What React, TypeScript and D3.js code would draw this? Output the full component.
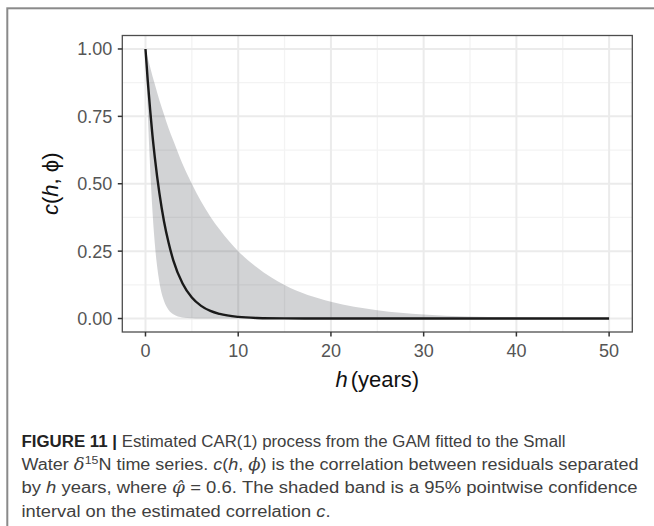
import React from "react";
import * as d3 from "d3";

// Lag h (years)
const lags = [0, 0.25, 0.5, 0.75, 1, 1.5, 2, 2.5, 3, 4, 5, 6, 7, 8, 10, 12, 15, 20, 25, 30, 40, 50];
// Estimated correlation c(h, phi)
const corr = [1, 0.88, 0.775, 0.68, 0.6, 0.465, 0.36, 0.28, 0.216, 0.13, 0.078, 0.047, 0.028, 0.017, 0.006, 0.002, 0.0005, 0, 0, 0, 0, 0];
// 95% pointwise confidence band
const upper = [1, 0.966, 0.933, 0.9, 0.87, 0.81, 0.757, 0.705, 0.66, 0.573, 0.5, 0.434, 0.378, 0.33, 0.25, 0.19, 0.124, 0.062, 0.031, 0.015, 0.004, 0.001];
const lower = [1, 0.76, 0.56, 0.4, 0.28, 0.135, 0.065, 0.032, 0.016, 0.004, 0.001, 0, 0, 0, 0, 0, 0, 0, 0, 0, 0, 0];

const xTicks = [0, 10, 20, 30, 40, 50];
const xMinor = [5, 15, 25, 35, 45];
const yTicks = [0, 0.25, 0.5, 0.75, 1];
const yMinor = [0.125, 0.375, 0.625, 0.875];

const W = 654;
const H = 526;
const P = { left: 122.3, right: 632.3, top: 35.5, bottom: 332 };

export default function App() {
  const x = d3.scaleLinear().domain([-2.5, 52.5]).range([P.left, P.right]);
  const y = d3.scaleLinear().domain([-0.05, 1.05]).range([P.bottom, P.top]);

  const pts = lags.map((h, i) => ({ h, c: corr[i], lo: lower[i], hi: upper[i] }));
  const area = d3
    .area<any>()
    .x((d) => x(d.h))
    .y0((d) => y(d.lo))
    .y1((d) => y(d.hi))
    .curve(d3.curveMonotoneX);
  const line = d3
    .line<any>()
    .x((d) => x(d.h))
    .y((d) => y(d.c))
    .curve(d3.curveMonotoneX);

  const font = "'Liberation Sans', Arial, Helvetica, sans-serif";
  const tickColor = "#555";
  const capColor = "#404040";
  const serif = "'DejaVu Serif', serif";

  return (
    <svg
      width={W}
      height={H}
      style={{ position: "absolute", left: 0, top: 0, background: "#fff" }}
      fontFamily={font}
    >
      {/* outer frame */}
      <rect x={7.3} y={8.3} width={720} height={640} fill="none" stroke="#8a8a8a" strokeWidth={2} />

      {/* panel background */}
      <rect x={P.left} y={P.top} width={P.right - P.left} height={P.bottom - P.top} fill="#fff" />

      {/* minor grid */}
      {xMinor.map((v) => (
        <line key={"xm" + v} x1={x(v)} x2={x(v)} y1={P.top} y2={P.bottom} stroke="#f3f3f3" strokeWidth={1.3} />
      ))}
      {yMinor.map((v) => (
        <line key={"ym" + v} x1={P.left} x2={P.right} y1={y(v)} y2={y(v)} stroke="#f3f3f3" strokeWidth={1.3} />
      ))}
      {/* major grid */}
      {xTicks.map((v) => (
        <line key={"xg" + v} x1={x(v)} x2={x(v)} y1={P.top} y2={P.bottom} stroke="#ebebeb" strokeWidth={2} />
      ))}
      {yTicks.map((v) => (
        <line key={"yg" + v} x1={P.left} x2={P.right} y1={y(v)} y2={y(v)} stroke="#ebebeb" strokeWidth={2} />
      ))}

      {/* confidence band */}
      <path d={area(pts) || ""} fill="rgb(30,34,44)" fillOpacity={0.2} />
      {/* estimated correlation */}
      <path d={line(pts) || ""} fill="none" stroke="#1a1a1a" strokeWidth={2.4} />

      {/* panel border */}
      <rect
        x={P.left}
        y={P.top}
        width={P.right - P.left}
        height={P.bottom - P.top}
        fill="none"
        stroke="#4d4d4d"
        strokeWidth={1.3}
      />

      {/* x ticks */}
      {xTicks.map((v) => (
        <g key={"xt" + v}>
          <line x1={x(v)} x2={x(v)} y1={P.bottom} y2={P.bottom + 4.5} stroke="#333" strokeWidth={1.5} />
          <text x={x(v)} y={356.5} textAnchor="middle" fontSize={18} fill={tickColor}>
            {v}
          </text>
        </g>
      ))}
      {/* y ticks */}
      {yTicks.map((v) => (
        <g key={"yt" + v}>
          <line x1={P.left - 4.5} x2={P.left} y1={y(v)} y2={y(v)} stroke="#333" strokeWidth={1.5} />
          <text x={P.left - 10} y={y(v)} dy="0.36em" textAnchor="end" fontSize={18} fill={tickColor}>
            {d3.format(".2f")(v)}
          </text>
        </g>
      ))}

      {/* axis titles */}
      <text x={(P.left + P.right) / 2} y={386.5} textAnchor="middle" fontSize={22} fill="#111">
        <tspan fontStyle="italic">h</tspan>
        <tspan dx={3}>(years)</tspan>
      </text>
      <text
        transform={`translate(57.5, ${(P.top + P.bottom) / 2}) rotate(-90)`}
        textAnchor="middle"
        fontSize={22}
        fill="#111"
      >
        <tspan fontStyle="italic">c</tspan>(<tspan fontStyle="italic">h</tspan>, ϕ)
      </text>

      {/* caption */}
      <g fontSize={16} fill={capColor}>
        <text x={21.5} y={446.7} textLength={544} lengthAdjust="spacingAndGlyphs">
          <tspan fontWeight="bold" fill="#222">FIGURE 11 |</tspan> Estimated CAR(1) process from the GAM fitted to the Small
        </text>
        <text x={21.5} y={470} textLength={617} lengthAdjust="spacingAndGlyphs">
          Water <tspan fontStyle="italic" fontFamily={serif}>δ</tspan>
          <tspan fontSize={11} dy={-6}>15</tspan>
          <tspan dy={6}>N time series. </tspan>
          <tspan fontStyle="italic">c</tspan>(<tspan fontStyle="italic">h</tspan>, <tspan fontStyle="italic" fontFamily={serif}>ϕ</tspan>) is the correlation between residuals separated
        </text>
        <text x={21.5} y={493.3} textLength={616} lengthAdjust="spacingAndGlyphs">
          by <tspan fontStyle="italic">h</tspan> years, where <tspan fontStyle="italic" fontFamily={serif}>φ̂</tspan> = 0.6. The shaded band is a 95% pointwise confidence
        </text>
        <text x={21.5} y={516.6} textLength={309} lengthAdjust="spacingAndGlyphs">
          interval on the estimated correlation <tspan fontStyle="italic">c</tspan>.
        </text>
      </g>
    </svg>
  );
}
